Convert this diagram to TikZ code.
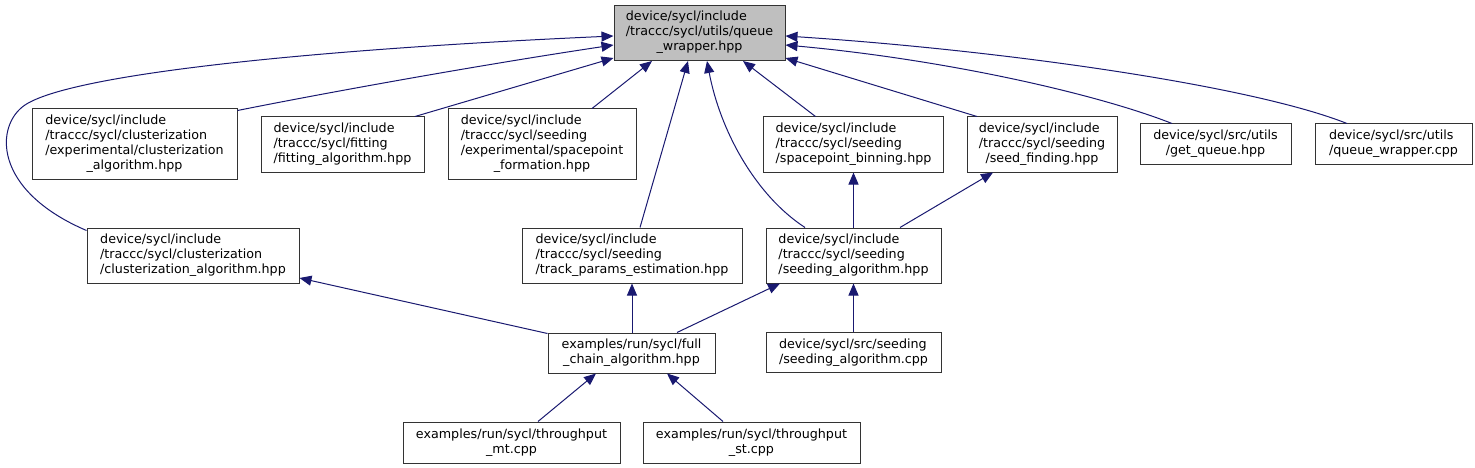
\documentclass[tikz,border=0pt]{standalone}
\usepackage{fontspec}
\setmainfont{DejaVu Sans}
\usetikzlibrary{arrows.meta,positioning,calc}
\definecolor{mnavy}{HTML}{191970}
\definecolor{mgrey}{HTML}{BFBFBF}
\tikzstyle{l1}=[line width=1.0]
\tikzstyle{file}=[draw=black!80, l1, inner sep=0pt, font=\fontsize{12.7}{15}\selectfont]
\tikzstyle{root}=[file, fill=mgrey]
\tikzstyle{incl}=[l1, color=mnavy, <-]
% all lines left, the last one centred
\newcommand{\flines}[2]{\begin{tabular}{@{}l@{}}#1\\\multicolumn{1}{@{}c@{}}{#2}\end{tabular}}

\begin{document}
\begin{tikzpicture}[x=1pt, y=-1pt, >={Triangle[length=12pt,width=10pt]}]
    \useasboundingbox (0,0) rectangle (1475,468);

    \node (q) [root, minimum width=171, minimum height=55] at (699.5,33) {\flines{device/sycl/include\\/traccc/sycl/utils/queue}{\_wrapper.hpp}};

    \node (ec) [file, minimum width=205, minimum height=70] at (134.5,144) {\flines{device/sycl/include\\/traccc/sycl/clusterization\\/experimental/clusterization}{\_algorithm.hpp}};
    \node (fit) [file, minimum width=163, minimum height=55] at (342.5,144.5) {\flines{device/sycl/include\\/traccc/sycl/fitting}{/fitting\_algorithm.hpp}};
    \node (sf) [file, minimum width=188, minimum height=70] at (542,144) {\flines{device/sycl/include\\/traccc/sycl/seeding\\/experimental/spacepoint}{\_formation.hpp}};
    \node (sb) [file, minimum width=180, minimum height=55] at (853.5,144.5) {\flines{device/sycl/include\\/traccc/sycl/seeding}{/spacepoint\_binning.hpp}};
    \node (sd) [file, minimum width=150, minimum height=55] at (1042,144.5) {\flines{device/sycl/include\\/traccc/sycl/seeding}{/seed\_finding.hpp}};
    \node (gq) [file, minimum width=151, minimum height=40] at (1215.5,144) {\flines{device/sycl/src/utils}{/get\_queue.hpp}};
    \node (qc) [file, minimum width=157, minimum height=40] at (1393.5,144) {\flines{device/sycl/src/utils}{/queue\_wrapper.cpp}};

    \node (ca) [file, minimum width=212, minimum height=55] at (193,255.5) {\flines{device/sycl/include\\/traccc/sycl/clusterization}{/clusterization\_algorithm.hpp}};
    \node (tp) [file, minimum width=220, minimum height=55] at (632,255.5) {\flines{device/sycl/include\\/traccc/sycl/seeding}{/track\_params\_estimation.hpp}};
    \node (sa) [file, minimum width=175, minimum height=55] at (853.5,255.5) {\flines{device/sycl/include\\/traccc/sycl/seeding}{/seeding\_algorithm.hpp}};

    \node (fc) [file, minimum width=167, minimum height=40] at (631.5,353) {\flines{examples/run/sycl/full}{\_chain\_algorithm.hpp}};
    \node (sc) [file, minimum width=175, minimum height=40] at (853.5,352.5) {\flines{device/sycl/src/seeding}{/seeding\_algorithm.cpp}};
    \node (mt) [file, minimum width=217, minimum height=41] at (511.5,442.5) {\flines{examples/run/sycl/throughput}{\_mt.cpp}};
    \node (st) [file, minimum width=217, minimum height=41] at (751.5,442.5) {\flines{examples/run/sycl/throughput}{\_st.cpp}};

    % includes of the queue wrapper
    \draw[incl] ([yshift=-3]q.west) .. controls (300,50) and (70,75) .. (25,105)
        .. controls (-5,125) and (-8,190) .. ([yshift=-3]ca.north west);
    \draw[incl] ([yshift=-12]q.west) .. controls (480,65) and (330,92) .. ([yshift=-2]ec.north east);
    \draw[incl] ([yshift=-25]q.west) -- ([xshift=72.5]fit.north);
    \draw[incl] ([xshift=-47.5]q.south) -- ([xshift=50]sf.north);
    \draw[incl] ([xshift=-11.5]q.south) -- ([xshift=8]tp.north);
    \draw[incl] ([xshift=7.5]q.south) .. controls (720,130) and (755,195) .. ([xshift=-48.5]sa.north);
    \draw[incl] ([xshift=43.5]q.south) -- ([xshift=-38]sb.north);
    \draw[incl] ([yshift=-25]q.east) -- ([xshift=-65]sd.north);
    \draw[incl] ([yshift=-12]q.east) .. controls (950,60) and (1100,95) .. ([xshift=-43.5]gq.north);
    \draw[incl] ([yshift=-3]q.east) .. controls (1000,50) and (1250,85) .. ([xshift=-46.5]qc.north);

    % seeding
    \draw[incl] (sb.south) -- (sb.south |- sa.north);
    \draw[incl] ([xshift=-49]sd.south) -- ([xshift=46.5]sa.north);
    \draw[incl] (sa.south) -- (sa.south |- sc.north);

    % full chain
    \draw[incl] ([yshift=-22.5]ca.east) -- ([yshift=-1]fc.north west);
    \draw[incl] (tp.south) -- (tp.south |- fc.north);
    \draw[incl] ([xshift=-73.5]sa.south) -- ([xshift=45.5]fc.north);
    \draw[incl] ([xshift=-35.5]fc.south) -- ([xshift=26.5]mt.north);
    \draw[incl] ([xshift=35.5]fc.south) -- ([xshift=-28.5]st.north);

\end{tikzpicture}
\end{document}
